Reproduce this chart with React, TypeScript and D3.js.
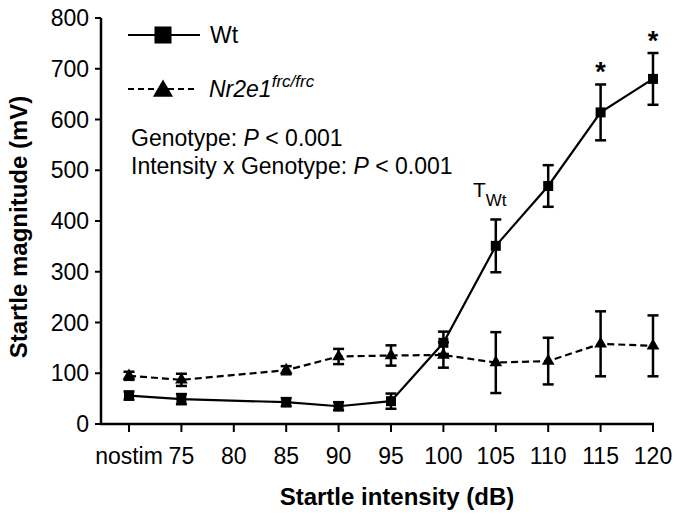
import React from 'react';
import * as d3 from 'd3';

// x categories (80 dB has no measurement)
const categories = ['nostim', '75', '80', '85', '90', '95', '100', '105', '110', '115', '120'];
const measured = ['nostim', '75', '85', '90', '95', '100', '105', '110', '115', '120'];

const wtMean = [56, 49, 43, 35, 45, 160, 351, 469, 614, 680];
const wtErr = [8, 10, 8, 8, 15, 22, 52, 41, 55, 51];
const nrMean = [95, 87, 106, 133, 135, 136, 121, 124, 158, 154];
const nrErr = [8, 12, 8, 15, 20, 25, 60, 46, 64, 60];

const yTicks = [0, 100, 200, 300, 400, 500, 600, 700, 800];
const starred = ['115', '120'];

const font = '"Liberation Sans", Arial, Helvetica, sans-serif';

const App = () => {
  const width = 679;
  const height = 519;

  const x = d3.scalePoint().domain(categories).range([129, 653]);
  const y = d3.scaleLinear().domain([0, 800]).range([424, 18]);
  const axisLeft = 101;
  const axisBottom = y(0);

  const wt = measured.map((c, i) => ({ c, v: wtMean[i], e: wtErr[i] }));
  const nr = measured.map((c, i) => ({ c, v: nrMean[i], e: nrErr[i] }));

  const line = d3.line<{ c: string; v: number }>()
    .x(d => x(d.c) as number)
    .y(d => y(d.v));

  const square = d3.symbol(d3.symbolSquare, 100)();
  const tri = d3.symbol(d3.symbolTriangle, 70)();
  const bigSquare = d3.symbol(d3.symbolSquare, 290)();
  const bigTri = d3.symbol(d3.symbolTriangle, 175)();

  const errBars = (data: { c: string; v: number; e: number }[], key: string) =>
    data.map(d => {
      const cx = x(d.c) as number;
      const t = y(d.v + d.e);
      const b = y(d.v - d.e);
      return (
        <g key={key + d.c} stroke="#000" strokeWidth={2.5}>
          <line x1={cx} x2={cx} y1={t} y2={b} />
          <line x1={cx - 5.5} x2={cx + 5.5} y1={t} y2={t} />
          <line x1={cx - 5.5} x2={cx + 5.5} y1={b} y2={b} />
        </g>
      );
    });

  return (
    <svg width={width} height={height} style={{ position: 'absolute', left: 0, top: 0, background: '#fff' }}
      fontFamily={font}>
      <rect width={width} height={height} fill="#fff" />

      {/* axes */}
      <line x1={axisLeft} x2={axisLeft} y1={y(800)} y2={axisBottom} stroke="#000" strokeWidth={2.5} />
      <line x1={axisLeft - 1} x2={x('120') as number + 1} y1={axisBottom} y2={axisBottom} stroke="#000" strokeWidth={2.5} />
      {yTicks.map(t => (
        <g key={'y' + t}>
          <line x1={axisLeft - 6} x2={axisLeft} y1={y(t)} y2={y(t)} stroke="#000" strokeWidth={2} />
          <text x={axisLeft - 12} y={y(t) + 8} fontSize={23} textAnchor="end">{t}</text>
        </g>
      ))}
      {categories.map(c => (
        <g key={'x' + c}>
          <line x1={x(c)} x2={x(c)} y1={axisBottom} y2={axisBottom + 8} stroke="#000" strokeWidth={2} />
          <text x={x(c)} y={464} fontSize={23} textAnchor="middle">{c}</text>
        </g>
      ))}

      <text x={397} y={505} fontSize={24} fontWeight="bold" textAnchor="middle">Startle intensity (dB)</text>
      <text transform={`translate(27,${(y(0) + y(800)) / 2 + 6}) rotate(-90)`} fontSize={24} fontWeight="bold"
        textAnchor="middle">Startle magnitude (mV)</text>

      {/* error bars */}
      {errBars(nr, 'n')}
      {errBars(wt, 'w')}

      {/* lines */}
      <path d={line(nr) ?? ''} fill="none" stroke="#000" strokeWidth={2.2} strokeDasharray="7,4" />
      <path d={line(wt) ?? ''} fill="none" stroke="#000" strokeWidth={2.2} />

      {/* markers */}
      {nr.map(d => (
        <path key={'nt' + d.c} d={tri ?? ''} transform={`translate(${x(d.c)},${y(d.v)})`} fill="#000" />
      ))}
      {wt.map(d => (
        <path key={'ws' + d.c} d={square ?? ''} transform={`translate(${x(d.c)},${y(d.v)})`} fill="#000" />
      ))}

      {/* significance */}
      {wt.filter(d => starred.includes(d.c)).map(d => (
        <text key={'s' + d.c} x={x(d.c)} y={y(d.v + d.e) - 3} fontSize={27} fontWeight="bold"
          textAnchor="middle">*</text>
      ))}
      <text x={473} y={197} fontSize={21}>T<tspan fontSize={17} dy={9}>Wt</tspan></text>

      {/* legend */}
      <line x1={128} x2={200} y1={35} y2={35} stroke="#000" strokeWidth={2.2} />
      <path d={bigSquare ?? ''} transform="translate(163,35)" fill="#000" />
      <text x={210} y={43} fontSize={23}>Wt</text>
      <line x1={128} x2={196} y1={89} y2={89} stroke="#000" strokeWidth={2.2} strokeDasharray="6,4" />
      <path d={bigTri ?? ''} transform="translate(163,91)" fill="#000" />
      <text x={209} y={97} fontSize={23} fontStyle="italic">Nr2e1<tspan fontSize={17} dy={-10}>frc/frc</tspan></text>

      <text x={131} y={146} fontSize={23}>Genotype: <tspan fontStyle="italic">P</tspan> {'<'} 0.001</text>
      <text x={131} y={174} fontSize={23}>Intensity x Genotype: <tspan fontStyle="italic">P</tspan> {'<'} 0.001</text>
    </svg>
  );
};

export default App;
